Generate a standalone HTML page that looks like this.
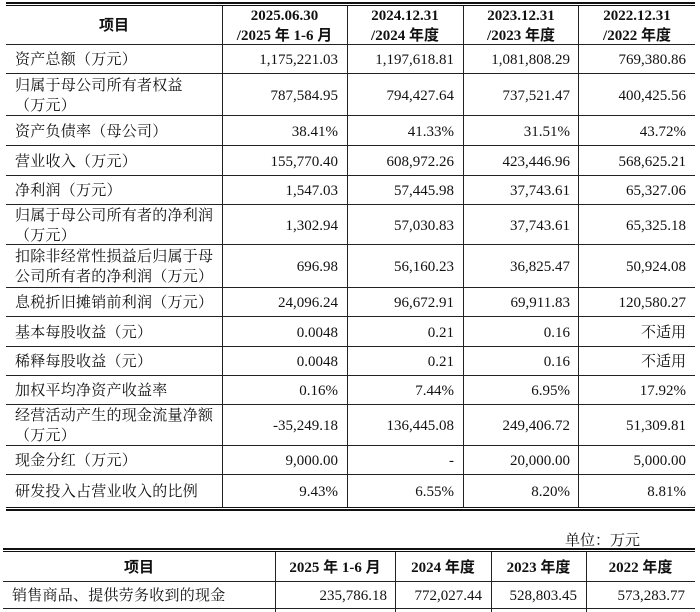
<!DOCTYPE html>
<html>
<head>
<meta charset="utf-8">
<style>
html,body{margin:0;padding:0;background:#fff;}
body{width:700px;height:611px;position:relative;overflow:hidden;font-family:"Liberation Serif","Noto Serif CJK SC",serif;color:#111;}
.hl{position:absolute;background:#222;height:1px;}
.vl{position:absolute;background:#222;width:1px;}
.row{position:absolute;left:0;width:700px;}
.c{position:absolute;top:0;height:100%;display:flex;align-items:center;box-sizing:border-box;line-height:20px;white-space:nowrap;padding-top:3px;}
.l{justify-content:flex-start;padding-left:9px;font-size:15px;letter-spacing:0.25px;}
.r{justify-content:flex-end;padding-right:9px;font-size:15px;}
.r.cj{font-size:15px;}
.h{justify-content:center;text-align:center;font-weight:bold;font-size:15px;font-family:"Liberation Serif","Noto Sans CJK SC",sans-serif;padding-top:2px;}
.a1{left:6px;width:216px;}
.a2{left:222px;width:125px;}
.a3{left:347px;width:116px;}
.a4{left:463px;width:116px;}
.a5{left:579px;width:116px;}
.b1{left:3px;width:272px;}
.b2{left:275px;width:120px;}
.b3{left:395px;width:96px;}
.b4{left:491px;width:95px;}
.b5{left:586px;width:109px;}
</style>
</head>
<body>

<!-- Table 1 lines -->
<div class="hl" style="left:6px;width:689px;top:2px;height:2px;background:#111;"></div>
<div class="hl" style="left:6px;width:689px;top:5px;height:1px;background:#111;"></div>
<div class="hl" style="left:6px;width:689px;top:44px;"></div>
<div class="hl" style="left:6px;width:689px;top:73px;"></div>
<div class="hl" style="left:6px;width:689px;top:115px;"></div>
<div class="hl" style="left:6px;width:689px;top:145px;"></div>
<div class="hl" style="left:6px;width:689px;top:175px;"></div>
<div class="hl" style="left:6px;width:689px;top:204px;"></div>
<div class="hl" style="left:6px;width:689px;top:244px;"></div>
<div class="hl" style="left:6px;width:689px;top:287px;"></div>
<div class="hl" style="left:6px;width:689px;top:316px;"></div>
<div class="hl" style="left:6px;width:689px;top:346px;"></div>
<div class="hl" style="left:6px;width:689px;top:375px;"></div>
<div class="hl" style="left:6px;width:689px;top:404px;"></div>
<div class="hl" style="left:6px;width:689px;top:445px;"></div>
<div class="hl" style="left:6px;width:689px;top:474px;"></div>
<div class="hl" style="left:6px;width:689px;top:507px;background:#111;"></div>
<div class="hl" style="left:6px;width:689px;top:509px;height:2px;background:#111;"></div>

<div class="vl" style="left:222px;top:6px;height:501px;"></div>
<div class="vl" style="left:347px;top:6px;height:501px;"></div>
<div class="vl" style="left:463px;top:6px;height:501px;"></div>
<div class="vl" style="left:578px;top:6px;height:501px;"></div>

<!-- Table 1 header -->
<div class="row" style="top:6px;height:38px;">
  <div class="c h a1">项目</div>
  <div class="c h a2">2025.06.30<br>/2025 年 1-6 月</div>
  <div class="c h a3">2024.12.31<br>/2024 年度</div>
  <div class="c h a4">2023.12.31<br>/2023 年度</div>
  <div class="c h a5">2022.12.31<br>/2022 年度</div>
</div>

<div class="row" style="top:44px;height:29px;">
  <div class="c l a1">资产总额（万元）</div>
  <div class="c r a2">1,175,221.03</div>
  <div class="c r a3">1,197,618.81</div>
  <div class="c r a4">1,081,808.29</div>
  <div class="c r a5">769,380.86</div>
</div>

<div class="row" style="top:73px;height:42px;">
  <div class="c l a1">归属于母公司所有者权益<br>（万元）</div>
  <div class="c r a2">787,584.95</div>
  <div class="c r a3">794,427.64</div>
  <div class="c r a4">737,521.47</div>
  <div class="c r a5">400,425.56</div>
</div>

<div class="row" style="top:115px;height:30px;">
  <div class="c l a1">资产负债率（母公司）</div>
  <div class="c r a2">38.41%</div>
  <div class="c r a3">41.33%</div>
  <div class="c r a4">31.51%</div>
  <div class="c r a5">43.72%</div>
</div>

<div class="row" style="top:145px;height:30px;">
  <div class="c l a1">营业收入（万元）</div>
  <div class="c r a2">155,770.40</div>
  <div class="c r a3">608,972.26</div>
  <div class="c r a4">423,446.96</div>
  <div class="c r a5">568,625.21</div>
</div>

<div class="row" style="top:175px;height:29px;">
  <div class="c l a1">净利润（万元）</div>
  <div class="c r a2">1,547.03</div>
  <div class="c r a3">57,445.98</div>
  <div class="c r a4">37,743.61</div>
  <div class="c r a5">65,327.06</div>
</div>

<div class="row" style="top:204px;height:40px;">
  <div class="c l a1">归属于母公司所有者的净利润<br>（万元）</div>
  <div class="c r a2">1,302.94</div>
  <div class="c r a3">57,030.83</div>
  <div class="c r a4">37,743.61</div>
  <div class="c r a5">65,325.18</div>
</div>

<div class="row" style="top:244px;height:43px;">
  <div class="c l a1">扣除非经常性损益后归属于母<br>公司所有者的净利润（万元）</div>
  <div class="c r a2">696.98</div>
  <div class="c r a3">56,160.23</div>
  <div class="c r a4">36,825.47</div>
  <div class="c r a5">50,924.08</div>
</div>

<div class="row" style="top:287px;height:29px;">
  <div class="c l a1">息税折旧摊销前利润（万元）</div>
  <div class="c r a2">24,096.24</div>
  <div class="c r a3">96,672.91</div>
  <div class="c r a4">69,911.83</div>
  <div class="c r a5">120,580.27</div>
</div>

<div class="row" style="top:316px;height:30px;">
  <div class="c l a1">基本每股收益（元）</div>
  <div class="c r a2">0.0048</div>
  <div class="c r a3">0.21</div>
  <div class="c r a4">0.16</div>
  <div class="c r cj a5">不适用</div>
</div>

<div class="row" style="top:346px;height:29px;">
  <div class="c l a1">稀释每股收益（元）</div>
  <div class="c r a2">0.0048</div>
  <div class="c r a3">0.21</div>
  <div class="c r a4">0.16</div>
  <div class="c r cj a5">不适用</div>
</div>

<div class="row" style="top:375px;height:29px;">
  <div class="c l a1">加权平均净资产收益率</div>
  <div class="c r a2">0.16%</div>
  <div class="c r a3">7.44%</div>
  <div class="c r a4">6.95%</div>
  <div class="c r a5">17.92%</div>
</div>

<div class="row" style="top:404px;height:41px;">
  <div class="c l a1">经营活动产生的现金流量净额<br>（万元）</div>
  <div class="c r a2">-35,249.18</div>
  <div class="c r a3">136,445.08</div>
  <div class="c r a4">249,406.72</div>
  <div class="c r a5">51,309.81</div>
</div>

<div class="row" style="top:445px;height:29px;">
  <div class="c l a1">现金分红（万元）</div>
  <div class="c r a2">9,000.00</div>
  <div class="c r a3">-</div>
  <div class="c r a4">20,000.00</div>
  <div class="c r a5">5,000.00</div>
</div>

<div class="row" style="top:474px;height:33px;">
  <div class="c l a1">研发投入占营业收入的比例</div>
  <div class="c r a2">9.43%</div>
  <div class="c r a3">6.55%</div>
  <div class="c r a4">8.20%</div>
  <div class="c r a5">8.81%</div>
</div>

<!-- Unit -->
<div style="position:absolute;left:565px;top:531px;font-size:15px;line-height:20px;letter-spacing:0px;white-space:nowrap;">单位：万元</div>

<!-- Table 2 lines -->
<div class="hl" style="left:3px;width:692px;top:548px;height:2px;background:#111;"></div>
<div class="hl" style="left:3px;width:692px;top:551px;height:1px;background:#111;"></div>
<div class="hl" style="left:3px;width:692px;top:581px;"></div>
<div class="hl" style="left:3px;width:692px;top:608px;"></div>

<div class="vl" style="left:275px;top:552px;height:60px;"></div>
<div class="vl" style="left:395px;top:552px;height:60px;"></div>
<div class="vl" style="left:491px;top:552px;height:60px;"></div>
<div class="vl" style="left:586px;top:552px;height:60px;"></div>

<div class="row" style="top:552px;height:29px;">
  <div class="c h b1">项目</div>
  <div class="c h b2">2025 年 1-6 月</div>
  <div class="c h b3">2024 年度</div>
  <div class="c h b4">2023 年度</div>
  <div class="c h b5">2022 年度</div>
</div>

<div class="row" style="top:581px;height:27px;">
  <div class="c l b1">销售商品、提供劳务收到的现金</div>
  <div class="c r b2" style="padding-right:8px;">235,786.18</div>
  <div class="c r b3">772,027.44</div>
  <div class="c r b4">528,803.45</div>
  <div class="c r b5" style="padding-right:10px;">573,283.77</div>
</div>

</body>
</html>
